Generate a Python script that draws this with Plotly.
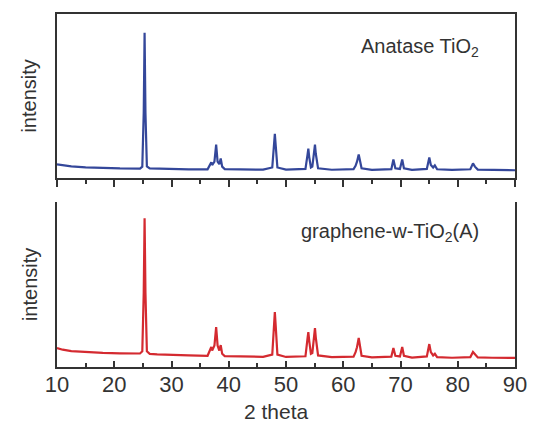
import plotly.graph_objects as go

# 2-theta positions (degrees) shared by both patterns
two_theta = [10, 11, 12.5, 15, 18, 21, 24.5, 24.9, 25.15, 25.3, 25.45, 25.7, 26.2, 27.5, 30, 33,
             36.3, 36.8, 36.95, 37.1, 37.5, 37.8, 38.05, 38.35, 38.6, 38.85, 39.3, 42, 46,
             47.6, 47.9, 48.05, 48.2, 48.5, 50, 53.4, 53.75, 53.9, 54.05, 54.35, 54.6, 54.9,
             55.06, 55.2, 55.6, 58, 61.8, 62.15, 62.4, 62.7, 62.85, 63.2, 65, 68.4, 68.76,
             69.1, 69.9, 70.3, 70.6, 72, 74.6, 75.03, 75.3, 75.7, 76.0, 76.4, 79, 82.2, 82.66,
             83.0, 83.5, 86, 90]

anatase = [8.4, 7.8, 7.2, 6.6, 6.1, 5.9, 5.8, 7.0, 40, 88.6, 40, 7.2, 6.0, 5.8, 5.6, 5.4,
           5.4, 8.5, 9.6, 8, 10, 20.4, 10, 8.5, 12, 7, 5.5, 5.3, 5.2,
           6.5, 22, 27, 20, 6.5, 5.2, 5.6, 14, 18, 13, 6.5, 7, 16,
           20.4, 15, 6.0, 5.1, 5.5, 7.5, 10, 14.4, 12, 6, 5.0, 5.5, 11.4,
           6.0, 5.6, 11.4, 6.0, 5.0, 5.6, 12.6, 8, 6.5, 7.8, 5.4, 5.0, 5.4, 9,
           7, 5.2, 4.9, 4.8]

graphene_tio2 = [11.5, 10.5, 9.6, 9.0, 8.6, 8.3, 8.2, 9.5, 45, 90.3, 45, 9.5, 8.0, 7.7, 7.3, 7.0,
                 6.8, 10.5, 12.1, 10, 13, 24.2, 13, 10, 13.3, 8, 6.6, 6.4, 6.2,
                 7.5, 27, 33.3, 25, 7.5, 6.1, 6.5, 17, 21.2, 16, 8, 8.5, 19,
                 23.6, 18, 7, 6.0, 6.3, 9, 12, 17.6, 14, 6.8, 5.8, 6.3, 11.5,
                 6.8, 6.4, 12.1, 6.8, 5.7, 6.4, 13.9, 9, 7, 8, 6, 5.6, 6, 9.1,
                 7.5, 5.8, 5.6, 5.5]

x_ticks = [10, 20, 30, 40, 50, 60, 70, 80, 90]
labels = ["Anatase TiO<sub>2</sub>", "graphene-w-TiO<sub>2</sub>(A)"]

FONT = "Liberation Sans, Arial, sans-serif"
AX = "#333333"

fig = go.Figure()
fig.add_trace(go.Scatter(x=two_theta, y=anatase, mode="lines", xaxis="x", yaxis="y",
                         line=dict(color="#34479a", width=2.2), showlegend=False))
fig.add_trace(go.Scatter(x=two_theta, y=graphene_tio2, mode="lines", xaxis="x2", yaxis="y2",
                         line=dict(color="#d42a30", width=2.2), showlegend=False))

top_dom = [0.535, 1.0]
bot_dom = [0.0, 0.467]

fig.update_layout(
    width=539, height=425,
    margin=dict(l=57, r=16, t=14, b=58),
    paper_bgcolor="white", plot_bgcolor="white",
    font=dict(family=FONT, color="#333333"),
    xaxis=dict(domain=[0, 1], anchor="y", range=[10, 90], showgrid=False, zeroline=False,
               showline=True, linecolor=AX, linewidth=2, mirror=True,
               ticks="outside", ticklen=7, tickwidth=1.5, tickcolor=AX,
               tickvals=x_ticks, showticklabels=False,
               minor=dict(dtick=5, tick0=5, ticks="outside", ticklen=4, tickwidth=1.5, tickcolor=AX)),
    yaxis=dict(domain=top_dom, anchor="x", range=[0, 100], showgrid=False, zeroline=False,
               showline=True, linecolor=AX, linewidth=2, mirror=True,
               ticks="", showticklabels=False),
    xaxis2=dict(domain=[0, 1], anchor="y2", range=[10, 90], showgrid=False, zeroline=False,
                showline=True, linecolor=AX, linewidth=2, mirror=False,
                ticks="inside", ticklen=6, tickwidth=1.5, tickcolor=AX,
                tickvals=x_ticks, ticktext=[str(v) for v in x_ticks],
                tickfont=dict(size=22, family=FONT, color="#333333"),
                ticklabelstandoff=-3,
                minor=dict(dtick=5, tick0=5, ticks="inside", ticklen=4, tickwidth=1.5, tickcolor=AX)),
    yaxis2=dict(domain=bot_dom, anchor="x2", range=[0, 100], showgrid=False, zeroline=False,
                showline=True, linecolor=AX, linewidth=2, mirror=True,
                ticks="", showticklabels=False),
)

ann_font = dict(family=FONT, size=20, color="#333333")
fig.add_annotation(text=labels[0], xref="paper", yref="paper", x=0.925, y=0.905,
                   xanchor="right", yanchor="middle", showarrow=False, font=ann_font)
fig.add_annotation(text=labels[1], xref="paper", yref="paper", x=0.925, y=0.38,
                   xanchor="right", yanchor="middle", showarrow=False, font=ann_font)
fig.add_annotation(text="intensity", xref="paper", yref="paper", x=-0.060, y=sum(top_dom) / 2,
                   xanchor="center", yanchor="middle", textangle=-90, showarrow=False, font=ann_font)
fig.add_annotation(text="intensity", xref="paper", yref="paper", x=-0.060, y=sum(bot_dom) / 2,
                   xanchor="center", yanchor="middle", textangle=-90, showarrow=False, font=ann_font)
fig.add_annotation(text="2 theta", xref="paper", yref="paper", x=0.48, y=-0.125,
                   xanchor="center", yanchor="middle", showarrow=False,
                   font=dict(family=FONT, size=21, color="#333333"))

fig.write_html("out.html")
